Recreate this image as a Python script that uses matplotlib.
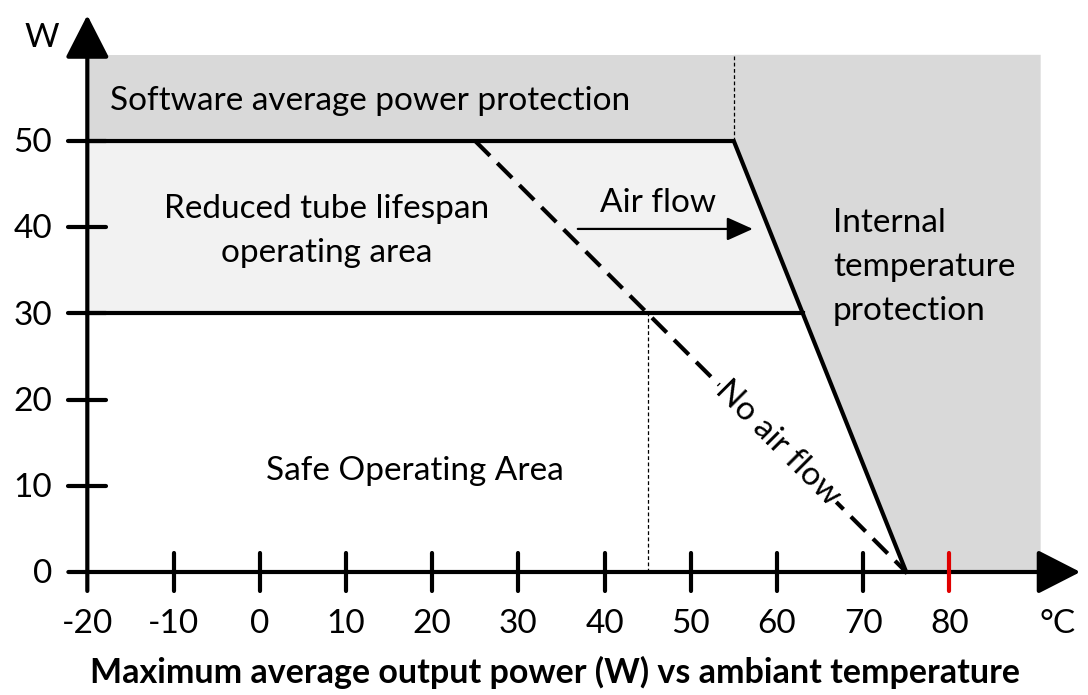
import matplotlib.pyplot as plt
from matplotlib.patches import Polygon

plt.rcParams['font.family'] = ['Lato', 'DejaVu Sans']

# chart values
x_ticks = [-10, 0, 10, 20, 30, 40, 50, 60, 70, 80]
x_labels = ["-20", "-10", "0", "10", "20", "30", "40", "50", "60", "70", "80"]
y_ticks = [10, 20, 30, 40, 50]
y_labels = ["0", "10", "20", "30", "40", "50"]
x_min, x_max = -20, 90.6
sw_power = 60            # top of software protection band
max_power = 50           # software average power limit
reduced_power = 30       # reduced lifespan limit
airflow_x = [-20, 55, 75]    # limit with air flow
airflow_y = [50, 50, 0]
no_airflow_x = [25, 75]      # limit without air flow
no_airflow_y = [50, 0]
red_tick = 80

BLACK = "black"
DARK = "#d9d9d9"
LIGHT = "#f2f2f2"
FS = 24

fig = plt.figure(figsize=(10.88, 6.95), dpi=100)
ax = fig.add_axes([0, 0, 1, 1])
ax.set_xlim(-30.13, 96.09)
ax.set_ylim(-14.27, 66.36)
ax.axis("off")


def on_line(xs, ys, y):
    # x on a straight limit segment for a given power
    return xs[0] + (y - ys[0]) * (xs[1] - xs[0]) / (ys[1] - ys[0])


x_red = on_line(airflow_x[1:], airflow_y[1:], reduced_power)
x_cross = on_line(no_airflow_x, no_airflow_y, reduced_power)

# shaded areas
ax.add_patch(Polygon([(x_min, max_power), (airflow_x[1], max_power), (airflow_x[1], sw_power), (x_min, sw_power)],
                     closed=True, facecolor=DARK, edgecolor="none", zorder=1))
ax.add_patch(Polygon([(airflow_x[1], sw_power), (airflow_x[1], max_power), (airflow_x[2], 0), (x_max, 0), (x_max, sw_power)],
                     closed=True, facecolor=DARK, edgecolor="none", zorder=1))
ax.add_patch(Polygon([(x_min, reduced_power), (x_red, reduced_power), (airflow_x[1], max_power), (x_min, max_power)],
                     closed=True, facecolor=LIGHT, edgecolor="none", zorder=1))

# dotted helper lines
ax.plot([airflow_x[1], airflow_x[1]], [max_power, sw_power], color=BLACK, lw=0.9, ls=(0, (3, 2)), zorder=2)
ax.plot([x_cross, x_cross], [0, reduced_power], color=BLACK, lw=0.9, ls=(0, (3, 2)), zorder=2)

# limits
ax.plot(airflow_x, airflow_y, color=BLACK, lw=3, solid_joinstyle="miter", zorder=3)
ax.plot([x_min, x_red], [reduced_power, reduced_power], color=BLACK, lw=3, zorder=3)
ax.plot(no_airflow_x, no_airflow_y, color=BLACK, lw=3, ls=(0, (5, 2.5)), zorder=3)

# axes with arrows
arrow = dict(arrowstyle="-|>,head_length=1.33,head_width=0.68", mutation_scale=20,
             lw=3, color=BLACK, shrinkA=0, shrinkB=0)
ax.annotate("", xy=(95.2, 0), xytext=(-22.2, 0), arrowprops=arrow, zorder=5)
ax.annotate("", xy=(-20, 64.6), xytext=(-20, -2.2), arrowprops=arrow, zorder=5)

# ticks
for t in x_ticks:
    c = "#e00000" if t == red_tick else BLACK
    ax.plot([t, t], [-2.2, 2.2], color=c, lw=3, solid_capstyle="round", zorder=6)
for t in y_ticks:
    ax.plot([-22.2, -17.8], [t, t], color=BLACK, lw=3, solid_capstyle="round", zorder=6)

for t, lab in zip([-20] + x_ticks, x_labels):
    ax.text(t, -7.1, lab, ha="center", va="baseline", fontsize=FS)
for t, lab in zip([0] + y_ticks, y_labels):
    ax.text(-24.1, t - 1.3, lab, ha="right", va="baseline", fontsize=FS)
ax.text(-25.3, 60.9, "W", ha="center", va="baseline", fontsize=FS)
ax.text(92.6, -7.1, "°C", ha="center", va="baseline", fontsize=FS)

# annotations
ax.text(-17.4, 53.6, "Software average power protection", ha="left", va="baseline", fontsize=FS)
ax.text(7.8, 41.1, "Reduced tube lifespan", ha="center", va="baseline", fontsize=FS)
ax.text(7.8, 36.0, "operating area", ha="center", va="baseline", fontsize=FS)
ax.text(46.2, 41.8, "Air flow", ha="center", va="baseline", fontsize=FS)
ax.annotate("", xy=(57.2, 39.8), xytext=(36.9, 39.8),
            arrowprops=dict(arrowstyle="-|>,head_length=0.8,head_width=0.36", mutation_scale=20,
                            lw=1.6, color=BLACK, shrinkA=0, shrinkB=0))
for y, line in zip([39.4, 34.3, 29.2], ["Internal", "temperature", "protection"]):
    ax.text(66.5, y, line, ha="left", va="baseline", fontsize=FS)
ax.text(18.0, 10.7, "Safe Operating Area", ha="center", va="baseline", fontsize=FS)
ax.text(60.1, 14.9, "No air flow", ha="center", va="center", fontsize=FS, rotation=-45,
        rotation_mode="anchor", zorder=4,
        bbox=dict(facecolor="white", edgecolor="none", pad=1))

ax.text(34.2, -12.9, "Maximum average output power (W) vs ambiant temperature",
        ha="center", va="baseline", fontsize=24.5, fontweight="bold")

fig.savefig("out.png", dpi=100)
